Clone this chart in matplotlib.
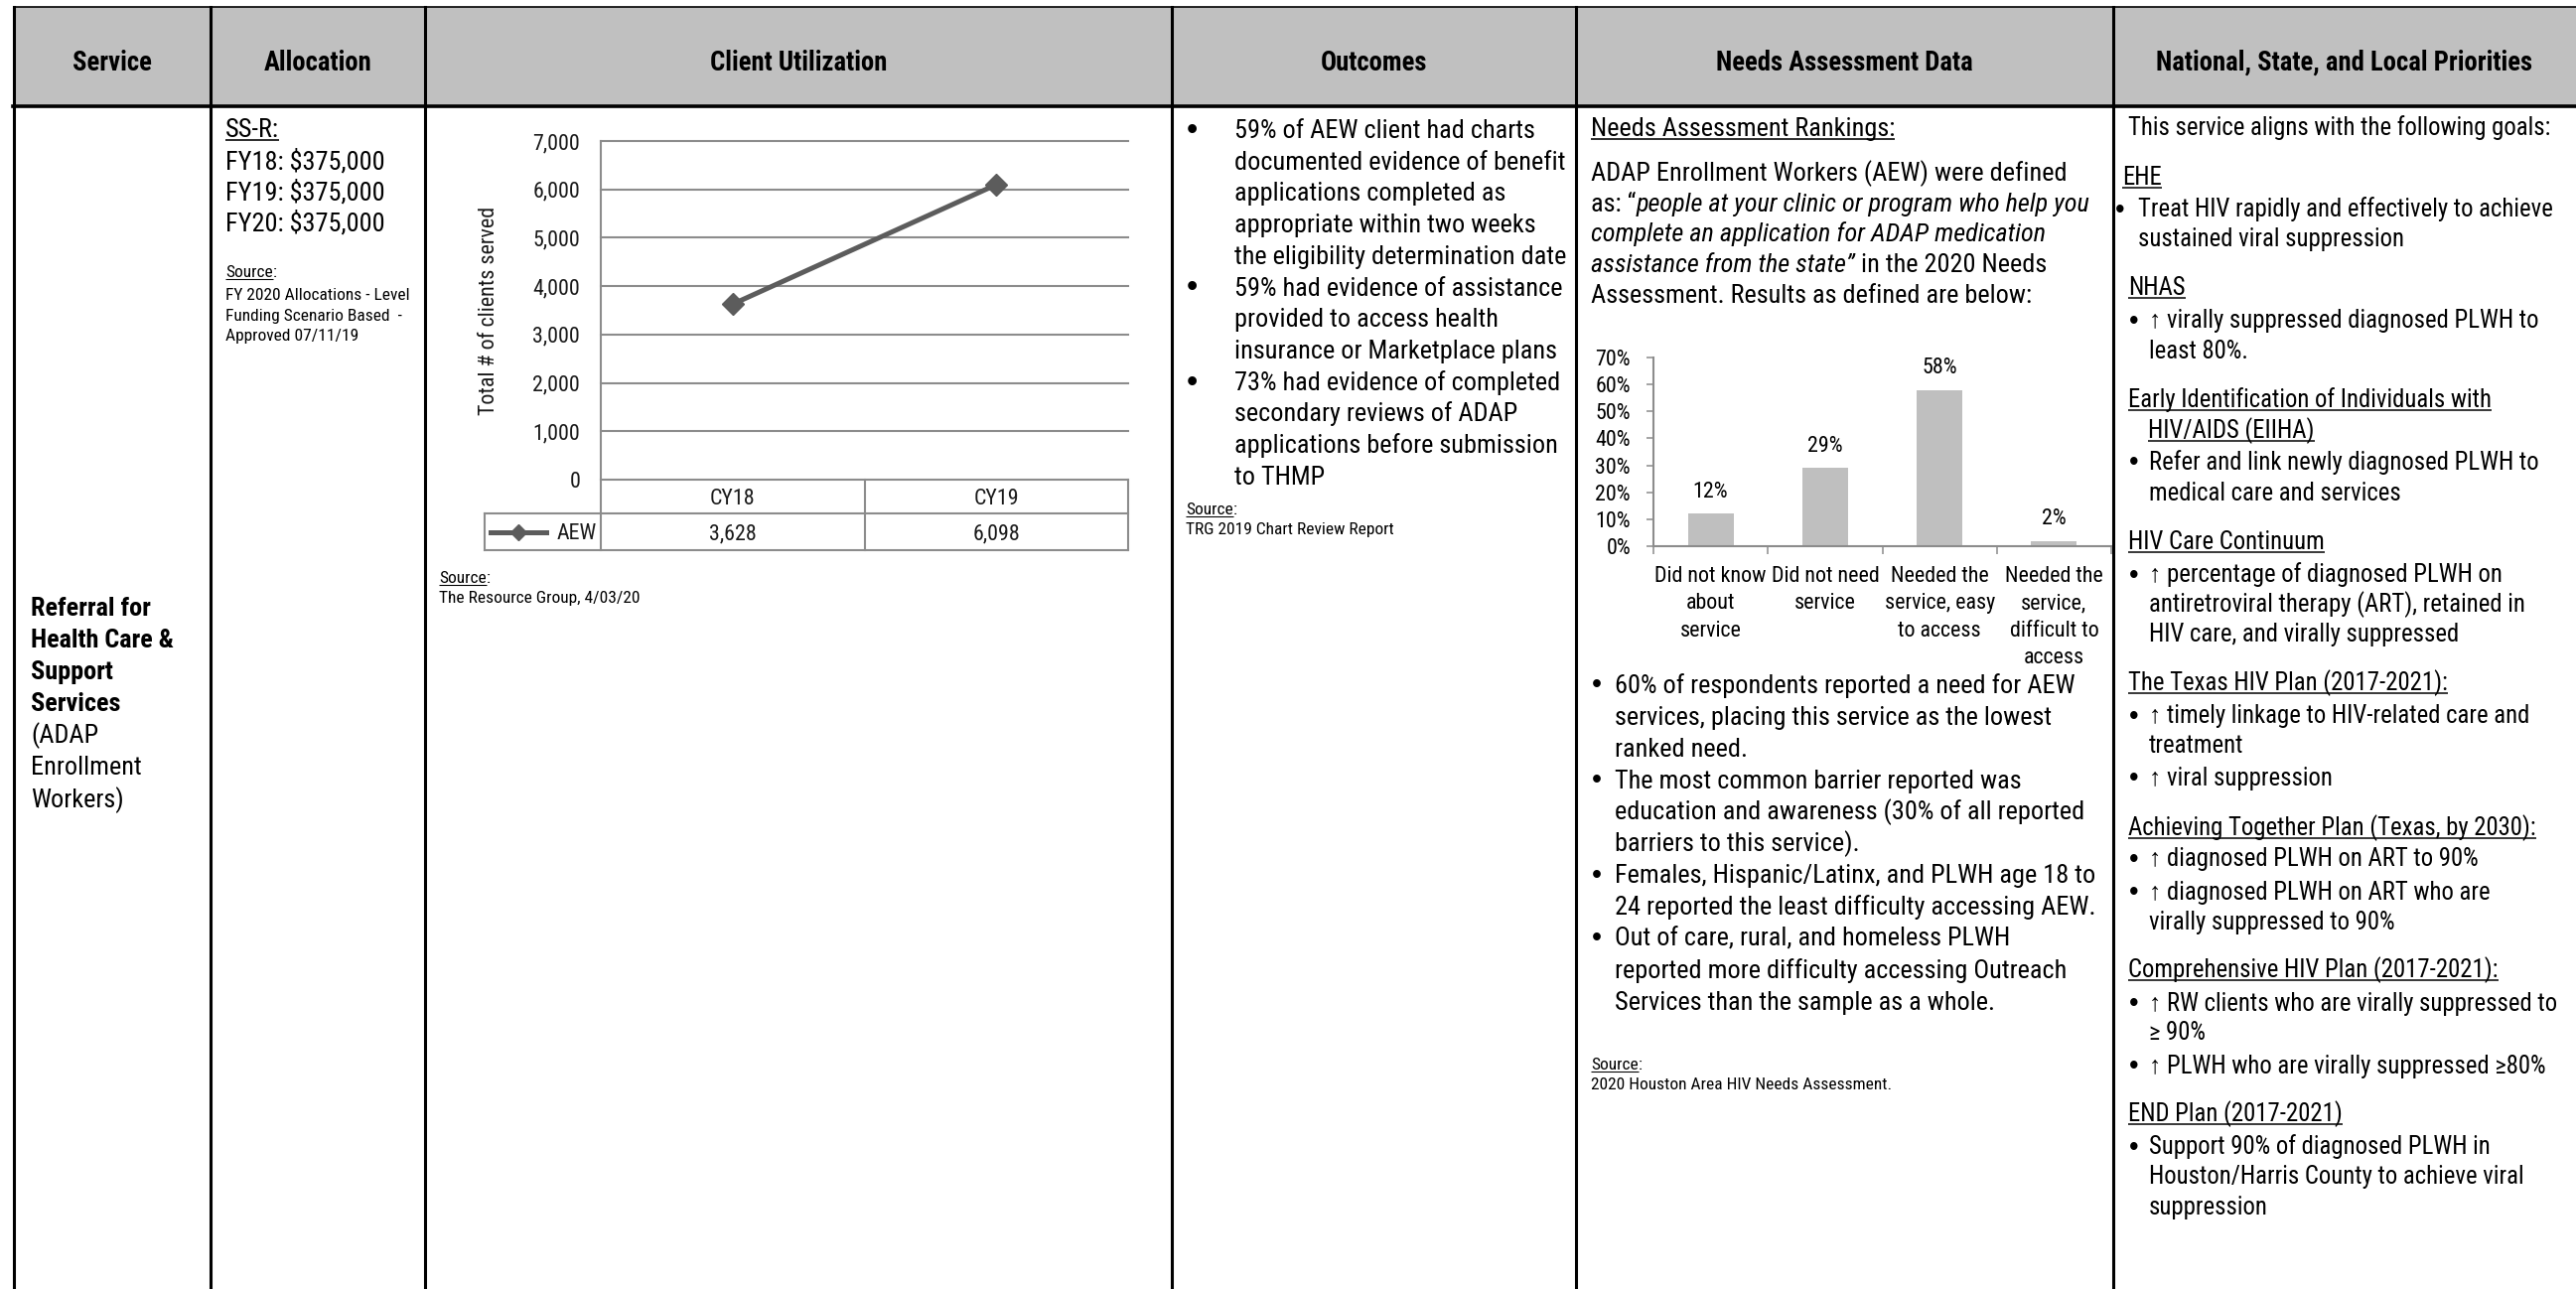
import matplotlib
matplotlib.use('Agg')
import matplotlib.pyplot as plt
import matplotlib.transforms as mtransforms
from matplotlib import font_manager as fm
from matplotlib.font_manager import FontProperties
from matplotlib.ticker import FuncFormatter
from matplotlib.patches import Rectangle

# ---------------- data ----------------
header_labels = ["Service", "Allocation", "Client Utilization", "Outcomes",
                 "Needs Assessment Data", "National, State, and Local Priorities"]
service_bold = ["Referral for", "Health Care &", "Support", "Services"]
service_plain = ["(ADAP", "Enrollment", "Workers)"]
funding_source = "SS-R:"
fiscal_years = ["FY18", "FY19", "FY20"]
allocations = [375000, 375000, 375000]
alloc_source = ["FY 2020 Allocations - Level", "Funding Scenario Based  -", "Approved 07/11/19"]

util_years = ["CY18", "CY19"]
util_series = "AEW"
util_clients = [3628, 6098]
util_yticks = [0, 1000, 2000, 3000, 4000, 5000, 6000, 7000]
util_ylabel = "Total # of clients served"
util_source = "The Resource Group, 4/03/20"

outcome_lines = ["59% of AEW client had charts", "documented evidence of benefit",
                 "applications completed as", "appropriate within two weeks",
                 "the eligibility determination date", "59% had evidence of assistance",
                 "provided to access health", "insurance or Marketplace plans",
                 "73% had evidence of completed", "secondary reviews of ADAP",
                 "applications before submission", "to THMP"]
outcome_bullet_rows = [0, 5, 8]
outcome_source = "TRG 2019 Chart Review Report"

needs_title = "Needs Assessment Rankings:"
needs_intro = [
    [("ADAP Enrollment Workers (AEW) were defined", "normal")],
    [("as: \u201c", "normal"), ("people at your clinic or program who help you", "italic")],
    [("complete an application for ADAP medication", "italic")],
    [("assistance from the state\u201d", "italic"), (" in the 2020 Needs", "normal")],
    [("Assessment. Results as defined are below:", "normal")],
]
need_categories = ["Did not know\nabout\nservice", "Did not need\nservice",
                   "Needed the\nservice, easy\nto access",
                   "Needed the\nservice,\ndifficult to\naccess"]
need_pct = [12, 29, 58, 2]
need_yticks = [0, 10, 20, 30, 40, 50, 60, 70]
needs_lines = ["60% of respondents reported a need for AEW",
               "services, placing this service as the lowest", "ranked need.",
               "The most common barrier reported was",
               "education and awareness (30% of all reported",
               "barriers to this service).",
               "Females, Hispanic/Latinx, and PLWH age 18 to",
               "24 reported the least difficulty accessing AEW.",
               "Out of care, rural, and homeless PLWH",
               "reported more difficulty accessing Outreach",
               "Services than the sample as a whole."]
needs_bullet_rows = [0, 3, 6, 8]
needs_source = "2020 Houston Area HIV Needs Assessment."

priority_items = [
    ("p", "This service aligns with the following goals:"),
    ("h0", "EHE"),
    ("b0", "Treat HIV rapidly and effectively to achieve"),
    ("c0", "sustained viral suppression"),
    ("h", "NHAS"),
    ("b", "\u2191 virally suppressed diagnosed PLWH to"),
    ("c", "least 80%."),
    ("h", "Early Identification of Individuals with"),
    ("hc", "HIV/AIDS (EIIHA)"),
    ("b", "Refer and link newly diagnosed PLWH to"),
    ("c", "medical care and services"),
    ("h", "HIV Care Continuum"),
    ("b", "\u2191 percentage of diagnosed PLWH on"),
    ("c", "antiretroviral therapy (ART), retained in"),
    ("c", "HIV care, and virally suppressed"),
    ("h", "The Texas HIV Plan (2017-2021):"),
    ("b", "\u2191 timely linkage to HIV-related care and"),
    ("c", "treatment"),
    ("b", "\u2191 viral suppression"),
    ("h", "Achieving Together Plan (Texas, by 2030):"),
    ("b", "\u2191 diagnosed PLWH on ART to 90%"),
    ("b", "\u2191 diagnosed PLWH on ART who are"),
    ("c", "virally suppressed to 90%"),
    ("h", "Comprehensive HIV Plan (2017-2021):"),
    ("b", "\u2191 RW clients who are virally suppressed to"),
    ("c", "\u2265 90%"),
    ("b", "\u2191 PLWH who are virally suppressed \u226580%"),
    ("h", "END Plan (2017-2021)"),
    ("b", "Support 90% of diagnosed PLWH in"),
    ("c", "Houston/Harris County to achieve viral"),
    ("c", "suppression"),
]

# ---------------- layout (pixels) ----------------
W, H = 2594, 1298
DPI = 100
PT = 72.0 / DPI

fig = plt.figure(figsize=(W / DPI, H / DPI), dpi=DPI)
ax = fig.add_axes([0, 0, 1, 1])
ax.set_xlim(0, W)
ax.set_ylim(H, 0)
ax.axis('off')
renderer = fig.canvas.get_renderer()

# font choice: a narrow sans if one is installed, sized to keep Arial widths
REG = ['Liberation Sans', 'DejaVu Sans']
FAM = REG
SCALE = 1.0
_names = {f.name for f in fm.fontManager.ttflist}
_cands = ['Liberation Sans Narrow', 'Arial Narrow', 'Nimbus Sans Narrow',
          'Roboto Condensed', 'Open Sans Condensed', 'Noto Sans Condensed',
          'DejaVu Sans Condensed']
_sample = "Assessment. Results as defined are below: 59% had evidence"
_wreg = renderer.get_text_width_height_descent(
    _sample, FontProperties(family=REG, size=16), ismath=False)[0]
for c in _cands:
    if c in _names:
        try:
            wn = renderer.get_text_width_height_descent(
                _sample, FontProperties(family=[c] + REG, size=16), ismath=False)[0]
        except Exception:
            continue
        if wn < 0.95 * _wreg:
            FAM = [c] + REG
            SCALE = min(1.25, _wreg / wn)
            break
plt.rcParams['font.family'] = FAM

col_edges = [14, 212, 428, 1180, 1587, 2128, W]
HEAD_TOP, HEAD_BOT = 7, 107
BODY = 23.0      # px em (Arial-equivalent width) of body text
SMALL = 15.3
PRIO = 21.7
CHART = 19.3
GRID = '#8c8c8c'
LINEC = '#5c5c5c'
BARC = '#bfbfbf'


def fp(size, weight='normal', style='normal', family=None):
    if family is None:
        return FontProperties(family=FAM, size=size * PT * SCALE, weight=weight,
                              style=style)
    return FontProperties(family=family, size=size * PT, weight=weight, style=style)


def tw(s, prop):
    w, h, d = renderer.get_text_width_height_descent(s, prop, ismath=False)
    return w


def adv(s, prop):
    return tw(s + '|', prop) - tw('|', prop)


def put(x, y, s, size=BODY, weight='normal', style='normal', ha='left', ul=False,
        color='black', family=None):
    prop = fp(size, weight, style, family)
    ax.text(x, y, s, fontproperties=prop, ha=ha, va='baseline', color=color)
    if ul:
        w = tw(s, prop)
        x0 = x if ha == 'left' else x - w / 2
        uy = y + size * 0.14
        ax.plot([x0, x0 + w], [uy, uy], color=color, lw=size * 0.07 * PT,
                solid_capstyle='butt')
    return prop


def bullet(x, y, size):
    put(x, y, "\u2022", size, ha='center', family=REG)


def seq(x, y, segs, size=BODY):
    for s, style, ul in segs:
        prop = put(x, y, s, size, style=style, ul=ul)
        x += adv(s, prop)


def source(x, y, size=SMALL):
    seq(x, y, [("Source", "normal", True), (":", "normal", False)], size)


# ---------------- table frame ----------------
ax.add_patch(Rectangle((col_edges[0], HEAD_TOP), W - col_edges[0], HEAD_BOT - HEAD_TOP,
                       facecolor='#c0c0c0', edgecolor='none', zorder=0))
ax.plot([col_edges[0], W], [HEAD_TOP, HEAD_TOP], color='black', lw=1.2)
ax.plot([col_edges[0] - 1.5, W], [HEAD_BOT, HEAD_BOT], color='black', lw=2.6)
for xe in col_edges[:-1]:
    ax.plot([xe, xe], [HEAD_TOP, H], color='black', lw=2.2)

for i, lab in enumerate(header_labels):
    xc = (col_edges[i] + col_edges[i + 1]) / 2
    put(xc, 68.5 + 15 * (SCALE - 1), lab, 23.4, weight='bold', ha='center')

# ---------------- service ----------------
for i, s in enumerate(service_bold + service_plain):
    put(31, 620 + 32.1 * i, s, BODY, weight='bold' if i < len(service_bold) else 'normal')

# ---------------- allocation ----------------
put(227, 138, funding_source, BODY, ul=True)
for i, (fy, amt) in enumerate(zip(fiscal_years, allocations)):
    put(227, 170 + 31.5 * i, f"{fy}: ${amt:,}", BODY)
source(227, 279)
for i, s in enumerate(alloc_source):
    put(227, 302 + 20.5 * i, s, SMALL)

# ---------------- client utilization line chart ----------------
L0, R0, T0, B0 = 605, 1136, 142, 483
axl = fig.add_axes([L0 / W, 1 - B0 / H, (R0 - L0) / W, (B0 - T0) / H])
axl.set_facecolor('none')
xpos = [i + 0.5 for i in range(len(util_years))]
axl.plot(xpos, util_clients, color=LINEC, lw=3.6, marker='D', ms=11, zorder=4,
         clip_on=False)
axl.set_xlim(0, len(util_years))
axl.set_ylim(util_yticks[0], util_yticks[-1])
axl.set_yticks(util_yticks)
axl.yaxis.set_major_formatter(FuncFormatter(lambda v, p: f"{int(v):,}"))
axl.set_xticks([])
axl.grid(axis='y', color=GRID, lw=1.5)
for gl in axl.yaxis.get_gridlines():
    gl.set_clip_on(False)
for s in ['top', 'right', 'bottom']:
    axl.spines[s].set_visible(False)
axl.spines['left'].set_color(GRID)
axl.spines['left'].set_linewidth(1.5)
axl.tick_params(axis='y', length=0, pad=15, labelsize=CHART * PT * SCALE,
                labelcolor='#1a1a1a')
axl.set_ylabel(util_ylabel, fontsize=CHART * PT * SCALE, color='#1a1a1a')
axl.yaxis.set_label_coords((500 + 20 * (SCALE - 1) - L0) / (R0 - L0),
                           (B0 - 313) / (B0 - T0))

# data table under the chart
bt = mtransforms.blended_transform_factory(axl.transData, axl.transAxes)
hgt = B0 - T0
cw = (R0 - L0) / len(util_years)
r1 = -(517 - B0) / hgt
r2 = -(554 - B0) / hgt
lab_x = -(L0 - 488) / cw
tkw = dict(transform=bt, color=GRID, lw=1.5, clip_on=False, solid_capstyle='projecting')
axl.plot([lab_x, len(util_years)], [r1, r1], **tkw)
axl.plot([lab_x, len(util_years)], [r2, r2], **tkw)
for k in range(len(util_years) + 1):
    axl.plot([k, k], [0, r2], **tkw)
axl.plot([lab_x, lab_x], [r1, r2], **tkw)
tprop = fp(CHART)
cap = 0.358 * CHART * SCALE
for i, (yr, v) in enumerate(zip(util_years, util_clients)):
    axl.text(i + 0.5, -(500 + cap - B0) / hgt, yr, transform=bt, ha='center',
             va='baseline', fontproperties=tprop, color='#1a1a1a')
    axl.text(i + 0.5, -(535.5 + cap - B0) / hgt, f"{v:,}", transform=bt, ha='center',
             va='baseline', fontproperties=tprop, color='#1a1a1a')
ly = -(535.5 - B0) / hgt
axl.plot([-(L0 - 494) / cw, -(L0 - 550) / cw], [ly, ly], transform=bt, color=LINEC,
         lw=3.6, clip_on=False)
axl.plot([-(L0 - 522) / cw], [ly], transform=bt, color=LINEC, marker='D', ms=8.5,
         clip_on=False)
axl.text(-(L0 - 601) / cw, -(535.5 + cap - B0) / hgt, util_series, transform=bt,
         ha='right', va='baseline', fontproperties=tprop, color='#1a1a1a')

source(442, 587)
put(442, 607, util_source, SMALL)

# ---------------- outcomes ----------------
for i, s in enumerate(outcome_lines):
    y = 139 + 31.7 * i
    if i in outcome_bullet_rows:
        bullet(1200, y + 1, BODY * 1.4)
    put(1243, y, s, BODY)
source(1194, 518)
put(1194, 538, outcome_source, SMALL)

# ---------------- needs assessment ----------------
put(1602, 137, needs_title, BODY, ul=True)
for i, segs in enumerate(needs_intro):
    seq(1602, 182 + 30.7 * i, [(s, st, False) for s, st in segs], BODY)

BL, BR, BT, BB = 1665, 2126, 360, 550
axb = fig.add_axes([BL / W, 1 - BB / H, (BR - BL) / W, (BB - BT) / H])
axb.set_facecolor('none')
xb = list(range(len(need_categories)))
bars = axb.bar(xb, need_pct, width=0.4, color=BARC, zorder=2)
axb.set_xlim(-0.5, len(need_categories) - 0.5)
axb.set_ylim(need_yticks[0], need_yticks[-1])
axb.set_yticks(need_yticks)
axb.yaxis.set_major_formatter(FuncFormatter(lambda v, p: f"{int(v)}%"))
axb.set_xticks([k - 0.5 for k in range(len(need_categories) + 1)])
axb.set_xticklabels([])
axb.set_xticks(xb, need_categories, minor=True)

# category label line spacing / offset measured in pixels
cprop = fp(CHART)
_, lp_h, lp_d = renderer.get_text_width_height_descent("lp", cprop, ismath=False)
_, dk_h, dk_d = renderer.get_text_width_height_descent("Did not know", cprop, ismath=False)
asc = max(lp_h - lp_d, dk_h - dk_d)
ls = (27.6 - lp_d) / (lp_h - lp_d)
for t in axb.get_xticklabels(minor=True):
    t.set_linespacing(ls)
first_base = 585.5
pad_px = first_base - BB - asc
for s in ['top', 'right']:
    axb.spines[s].set_visible(False)
for s in ['left', 'bottom']:
    axb.spines[s].set_color(GRID)
    axb.spines[s].set_linewidth(1.5)
axb.tick_params(axis='y', direction='out', length=5, width=1.1, color=GRID, pad=11.5,
                labelsize=CHART * PT * SCALE)
axb.tick_params(axis='x', which='major', direction='out', length=5.8, width=1.1,
                color=GRID)
axb.tick_params(axis='x', which='minor', length=0, pad=pad_px * PT,
                labelsize=CHART * PT * SCALE)
axb.bar_label(bars, labels=[f"{v}%" for v in need_pct], padding=8,
              fontsize=CHART * PT * SCALE)

for i, s in enumerate(needs_lines):
    y = 698 + 31.85 * i
    if i in needs_bullet_rows:
        bullet(1608, y + 0.5, BODY * 1.25)
    put(1626, y, s, BODY)
source(1602, 1077)
put(1602, 1097, needs_source, SMALL)

# ---------------- priorities ----------------
prio_baselines = [136, 186, 218, 248, 297, 330, 361, 410, 441, 473, 504, 553, 586, 616,
                  646, 695, 728, 757.5, 791, 840.6, 872, 905.6, 936, 984, 1017.7, 1047,
                  1080.6, 1129, 1162, 1192, 1223]
PB = PRIO * 1.25
for (kind, s), y in zip(priority_items, prio_baselines):
    if kind == 'p':
        put(2143, y, s, PRIO)
    elif kind == 'h0':
        put(2137, y, s, PRIO, ul=True)
    elif kind == 'h':
        put(2143, y, s, PRIO, ul=True)
    elif kind == 'hc':
        put(2163, y, s, PRIO, ul=True)
    elif kind == 'b0':
        bullet(2135, y + 0.5, PB)
        put(2153, y, s, PRIO)
    elif kind == 'c0':
        put(2153, y, s, PRIO)
    elif kind == 'b':
        bullet(2149, y + 0.5, PB)
        put(2164, y, s, PRIO)
    else:
        put(2164, y, s, PRIO)

fig.savefig('out.png', dpi=DPI, facecolor='white')
